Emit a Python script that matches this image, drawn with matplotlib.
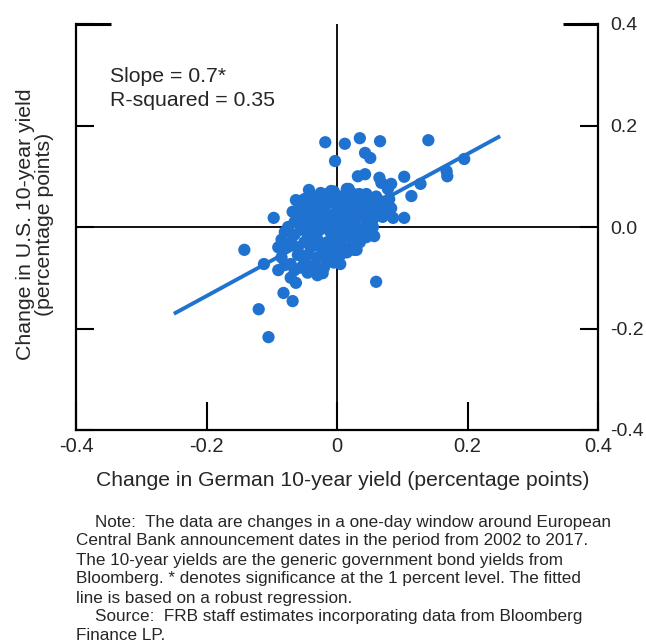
import matplotlib
matplotlib.use("Agg")
import matplotlib.pyplot as plt
import numpy as np

plt.rcParams['font.family'] = ['Liberation Sans', 'DejaVu Sans']

# German 10-year yield change (x) and U.S. 10-year yield change (y), percentage points
german = [
    -0.018, 0.012, 0.035, 0.066, -0.003, 0.043, 0.051, 0.140, 0.032, 0.043,
    0.065, 0.068, 0.103, 0.083, 0.078, -0.043, 0.015, -0.060, 0.114, 0.128,
    0.168, 0.169, 0.195, 0.086, 0.103, -0.097, -0.068, -0.048, 0.057, 0.060,
    -0.112, -0.120, -0.082, -0.068, -0.022, 0.005, 0.026, -0.142, -0.105, -0.071,
    -0.058, -0.063, -0.071, 0.083, -0.025, -0.009, 0.018, 0.034, -0.063,
    # dense cluster, upper right
    0.005, 0.020, 0.035, 0.050, 0.060, 0.070, 0.075, 0.065, 0.050, 0.035,
    0.020, 0.005, 0.010, 0.025, 0.040, 0.055, 0.070, 0.045, 0.030, 0.015,
    0.000, 0.060, 0.080, 0.025, 0.045, -0.005, 0.015, 0.040, 0.060, 0.000,
    0.020, 0.035, 0.010, 0.025, 0.005, 0.040, 0.020, 0.035, 0.045, 0.015, 0.030,
    # dense cluster, upper left
    -0.010, -0.025, -0.040, -0.015, -0.030, -0.050, -0.020, -0.035, -0.005, -0.055,
    -0.045, -0.025, -0.010, -0.065, -0.040, -0.020, -0.055, -0.075, -0.030, -0.010,
    -0.045, -0.065, -0.080, -0.015, -0.005, -0.035,
    # dense cluster, lower left
    -0.085, -0.070, -0.050, -0.030, -0.015, -0.090, -0.080, -0.040, -0.020, -0.005,
    -0.085, -0.045, -0.030, -0.015, -0.080, -0.035, -0.020, -0.050, -0.065, -0.045,
    -0.030, -0.090, -0.060, 0.005, -0.005,
    # dense cluster, fill
    -0.050, -0.060, -0.040, -0.015, 0.000, 0.010, 0.030, 0.055, 0.070, 0.050,
    0.030, 0.010, -0.030, -0.050, -0.005, -0.025, -0.040, -0.060, -0.055, -0.070,
    -0.010, 0.000, 0.020, 0.045, 0.055,
]
us = [
    0.167, 0.164, 0.175, 0.169, 0.130, 0.146, 0.136, 0.171, 0.100, 0.104,
    0.097, 0.087, 0.099, 0.085, 0.075, 0.073, 0.075, 0.051, 0.061, 0.085,
    0.110, 0.100, 0.134, 0.018, 0.018, 0.018, 0.030, 0.033, -0.018, -0.108,
    -0.073, -0.162, -0.130, -0.146, -0.091, -0.073, -0.045, -0.045, -0.217, -0.073,
    -0.053, -0.110, -0.100, 0.037, 0.067, 0.071, 0.075, 0.065, 0.053,
    # dense cluster, upper right
    0.060, 0.055, 0.050, 0.055, 0.045, 0.050, 0.035, 0.030, 0.035, 0.030,
    0.035, 0.040, 0.020, 0.015, 0.020, 0.015, 0.020, 0.005, 0.000, 0.005,
    0.010, 0.060, 0.055, 0.065, 0.065, 0.050, 0.045, 0.040, 0.025, -0.005,
    -0.010, -0.015, -0.020, -0.030, -0.035, -0.005, -0.040, -0.030, -0.020, -0.050, -0.045,
    # dense cluster, upper left
    0.060, 0.055, 0.050, 0.045, 0.040, 0.040, 0.030, 0.025, 0.025, 0.020,
    0.015, 0.015, 0.010, 0.010, 0.000, 0.000, -0.005, 0.000, -0.010, -0.010,
    -0.015, -0.015, -0.010, 0.065, 0.070, 0.060,
    # dense cluster, lower left
    -0.025, -0.030, -0.030, -0.025, -0.030, -0.040, -0.040, -0.040, -0.045, -0.050,
    -0.060, -0.055, -0.060, -0.065, -0.075, -0.075, -0.080, -0.070, -0.085, -0.090,
    -0.095, -0.085, -0.040, -0.055, -0.070,
    # dense cluster, fill
    0.055, 0.030, 0.030, 0.020, 0.030, 0.055, 0.045, 0.045, 0.040, 0.025,
    0.020, 0.000, 0.005, 0.000, -0.020, -0.040, -0.025, -0.055, -0.080, -0.035,
    -0.040, 0.045, 0.025, -0.010, 0.000,
]

# Robust-regression fitted line
fit_x = [-0.25, 0.25]
fit_intercept = 0.004
fit_slope = 0.7

x_ticks = [-0.4, -0.2, 0.0, 0.2, 0.4]
x_labels = ["-0.4", "-0.2", "0", "0.2", "0.4"]
y_ticks = [-0.4, -0.2, 0.0, 0.2, 0.4]
y_labels = ["-0.4", "-0.2", "0.0", "0.2", "0.4"]

blue = "#1f72cf"
txt = "#262626"
W, H = 646, 642
fig = plt.figure(figsize=(W / 100, H / 100), dpi=100)
ax = fig.add_axes([76 / W, 1 - 430 / H, (598 - 76) / W, (430 - 24) / H])

ax.set_xlim(-0.4, 0.4)
ax.set_ylim(-0.4, 0.4)

ax.axhline(0, color="black", lw=1.3, zorder=1)
ax.axvline(0, color="black", lw=1.3, zorder=1)

ax.scatter(german, us, s=78, color=blue, edgecolors="none", zorder=3)
fx = np.array(fit_x)
ax.plot(fx, fit_intercept + fit_slope * fx, color=blue, lw=2.8, zorder=2,
        solid_capstyle="butt")

for side in ["left", "right", "bottom"]:
    ax.spines[side].set_linewidth(1.6)
    ax.spines[side].set_color("black")
ax.spines["top"].set_visible(False)

# top stubs at 0.4
ax.plot([0, 0.067], [1, 1], transform=ax.transAxes, color="black", lw=2.2,
        clip_on=False, solid_capstyle="butt")
ax.plot([0.933, 1], [1, 1], transform=ax.transAxes, color="black", lw=2.2,
        clip_on=False, solid_capstyle="butt")

ax.set_xticks(x_ticks)
ax.set_xticklabels(x_labels)
ax.set_yticks(y_ticks)
ax.set_yticklabels(y_labels)
ax.tick_params(axis="x", direction="in", length=20, width=1.5, labelsize=14.5,
               pad=5, colors="black")
ax.tick_params(axis="y", direction="in", length=13, width=1.5, labelsize=14,
               left=True, right=True, labelleft=False, labelright=True, pad=9)
for lab in ax.get_xticklabels() + ax.get_yticklabels():
    lab.set_color(txt)

fig.text(343 / W, 1 - 481 / H, "Change in German 10-year yield (percentage points)",
         ha="center", va="center", fontsize=15.2, color=txt)
fig.text(35 / W, 1 - 224 / H, "Change in U.S. 10-year yield\n(percentage points)",
         ha="center", va="center", rotation=90, fontsize=15.3, color=txt,
         multialignment="center", linespacing=1.05)

ax.text(110 / W, 1 - 76 / H, "Slope = 0.7*", transform=fig.transFigure,
        ha="left", va="center", fontsize=15.3, color=txt)
ax.text(110 / W, 1 - 101 / H, "R-squared = 0.35", transform=fig.transFigure,
        ha="left", va="center", fontsize=15.3, color=txt)

note_lines = [
    "    Note:  The data are changes in a one-day window around European",
    "Central Bank announcement dates in the period from 2002 to 2017.",
    "The 10-year yields are the generic government bond yields from",
    "Bloomberg. * denotes significance at the 1 percent level. The fitted",
    "line is based on a robust regression.",
    "    Source:  FRB staff estimates incorporating data from Bloomberg",
    "Finance LP.",
]
for i, line in enumerate(note_lines):
    fig.text(76 / W, 1 - (522 + 19 * i) / H, line, ha="left", va="center",
             fontsize=12.3, color=txt)

fig.savefig("out.png", dpi=100)
